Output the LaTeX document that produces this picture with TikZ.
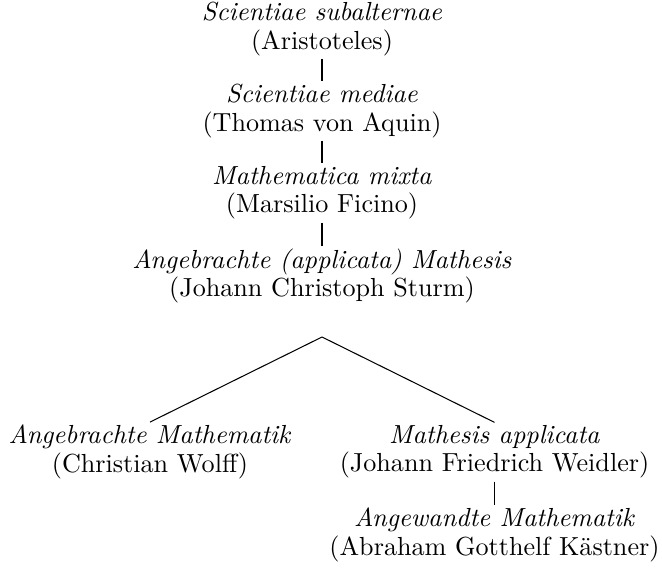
\documentclass[tikz,border=0pt]{standalone}
\begin{document}
\begin{tikzpicture}[x=0.3827pt,y=-0.3827pt,
  concept/.style={align=center,inner sep=1pt,font=\fontsize{10pt}{10.83pt}\selectfont},
  edge/.style={draw=black,line width=0.4pt}]
\useasboundingbox (0,0) rectangle (662,575);
\node[concept] (n1) at (322,29) {\textit{Scientiae subalternae}\\(Aristoteles)};
\node[concept] (n2) at (322,111) {\textit{Scientiae mediae}\\(Thomas von Aquin)};
\node[concept] (n3) at (322,193) {\textit{Mathematica mixta}\\(Marsilio Ficino)};
\node[concept] (n4) at (322,276) {\textit{Angebrachte (applicata) Mathesis}\\(Johann Christoph Sturm)};
\node[concept] (n5) at (150,452) {\textit{Angebrachte Mathematik}\\(Christian Wolff)};
\node[concept] (n6) at (494.5,452) {\textit{Mathesis applicata}\\(Johann Friedrich Weidler)};
\node[concept] (n7) at (494.5,535) {\textit{Angewandte Mathematik}\\(Abraham Gotthelf Kästner)};
\coordinate (apex) at (322,337);
\draw[edge] (n1) -- (n2);
\draw[edge] (n2) -- (n3);
\draw[edge] (n3) -- (n4);
\draw[edge] (apex) -- (n5.north);
\draw[edge] (apex) -- (n6.north);
\draw[edge] (n6) -- (n7);
\end{tikzpicture}
\end{document}
